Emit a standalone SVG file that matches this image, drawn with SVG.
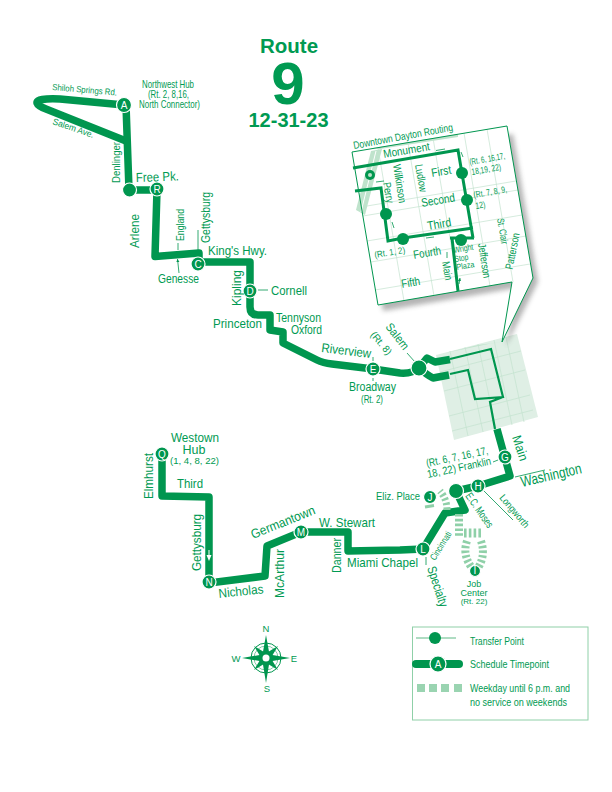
<svg xmlns="http://www.w3.org/2000/svg" width="612" height="792" viewBox="0 0 612 792">
<style>
text{font-family:"Liberation Sans",Arial,sans-serif;fill:#009a52}
.b{font-weight:bold}
.m{text-anchor:middle}
.route{fill:none;stroke:#00964f;stroke-width:7.500;stroke-linejoin:round;stroke-linecap:butt}
.thin{fill:none;stroke:#00964f;stroke-width:3;stroke-linejoin:miter}
.tick{fill:none;stroke:#00964f;stroke-width:.8}
.grid{fill:none;stroke:#c3e3ce;stroke-width:.7}
.dash{fill:none;stroke:#8fd0a8;stroke-dasharray:2.6 2.2}
.stop{fill:#00964f;stroke:#fff;stroke-width:1.2}
.lab{fill:#fff;font-size:10px;text-anchor:middle}
.ar{fill:#00964f}
</style>
<defs>
<filter id="blur" x="-20%" y="-20%" width="140%" height="140%"><feGaussianBlur stdDeviation="2.500"/></filter>
<marker id="ah" markerWidth="5" markerHeight="5" refX="4" refY="2" orient="auto"><path d="M0 0L4 2L0 4z" fill="#00964f"/></marker>
</defs>
<g id="title">
<text class="b m" x="289" y="53" font-size="20.500">Route</text>
<text class="b m" x="288" y="104" font-size="60">9</text>
<text class="b m" x="288.500" y="127" font-size="20">12-31-23</text>
</g>
<g id="downtown-area">
<polygon points="436,355 517,334 538,417 454,440" fill="#dfefe5"/>
<path class="grid" d="M450 351L468 436M465 347L483 432M478 344L496 429M494 340L512 425M506 337L524 422M440 372L521 351M444 391L525 370M449 416L530 395M452 431L533 410"/>
<polygon points="445,353 493,343 502,342 478,345" fill="#bfe3cc"/>
</g>
<g id="inset">
<polygon points="358,160 513,134 538,282 506,346 516,288 383,311" fill="#444" opacity=".4" filter="url(#blur)"/>
<polygon points="352,152 507,126 533,278 502,342 512,282 378,305" fill="#fff"/>
<path class="grid" d="M378 148L404 301M408 143L434 296M433 138L459 291M464 133L490 286M487 129L513 282M361 207L516 181M363 216L518 190M367 241L522 215M371 262L526 236M375 290L530 264"/>
<polygon points="373,148 458,134 458,137 380,149" fill="#bfe3cc"/>
<polygon points="371,151 382,149 365,215 356,210" fill="#bfe3cc"/>
<path d="M376 151L361 212" stroke="#fff" stroke-width="1" fill="none"/>
<polygon points="352,152 507,126 533,278 502,342 512,282 378,305" fill="none" stroke="#00964f" stroke-width="1"/>
<path class="thin" d="M353 168L458 150L473 238M473 228L403 238L388 241L381 188L355 191M450 238L474 238M452 238L458 291"/>
<circle cx="370" cy="175" r="5" fill="#00964f"/><circle cx="370" cy="175" r="2" fill="#bfe3cc"/>
<g id="inset-stops" fill="#00964f"><circle cx="462" cy="173" r="6"/><circle cx="467" cy="200" r="6"/><circle cx="386" cy="214" r="6"/><circle cx="403" cy="239" r="6"/><circle cx="461" cy="240" r="6"/></g>
<path class="tick" marker-end="url(#ah)" d="M445 149L436 150.500M463 157L461 152M376 182L384 181M392 222L394 228M426 238L434 237M447 252L447 258M459 284L460 278"/>
<text font-size="10.500" transform="translate(354 149) rotate(-10.500)" textLength="101" lengthAdjust="spacingAndGlyphs">Downtown Dayton Routing</text>
<text font-size="11.500" transform="translate(384 158) rotate(-9.700)" textLength="47" lengthAdjust="spacingAndGlyphs">Monument</text>
<text font-size="11" transform="translate(393 165) rotate(81)" textLength="39" lengthAdjust="spacingAndGlyphs">Wilkinson</text>
<text font-size="11" transform="translate(415 165) rotate(80)" textLength="28" lengthAdjust="spacingAndGlyphs">Ludlow</text>
<text font-size="11" transform="translate(383 183) rotate(80)" textLength="21" lengthAdjust="spacingAndGlyphs">Perry</text>
<text font-size="12" transform="translate(432 177) rotate(-9.700)" textLength="20" lengthAdjust="spacingAndGlyphs">First</text>
<text font-size="12" transform="translate(422 207) rotate(-9.700)" textLength="34" lengthAdjust="spacingAndGlyphs">Second</text>
<text font-size="12" transform="translate(428 230) rotate(-9.700)" textLength="24" lengthAdjust="spacingAndGlyphs">Third</text>
<text font-size="12" transform="translate(414 259) rotate(-9.700)" textLength="28" lengthAdjust="spacingAndGlyphs">Fourth</text>
<text font-size="12" transform="translate(402 288) rotate(-9.700)" textLength="19" lengthAdjust="spacingAndGlyphs">Fifth</text>
<text font-size="11" transform="translate(442 262) rotate(80)" textLength="19" lengthAdjust="spacingAndGlyphs">Main</text>
<text font-size="8.500" transform="translate(454 253) rotate(-9.700)" textLength="20" lengthAdjust="spacingAndGlyphs">Wright</text>
<text font-size="8.500" transform="translate(455 262) rotate(-9.700)" textLength="14" lengthAdjust="spacingAndGlyphs">Stop</text>
<text font-size="8.500" transform="translate(457 270) rotate(-9.700)" textLength="18" lengthAdjust="spacingAndGlyphs">Plaza</text>
<text font-size="11" transform="translate(478 244) rotate(81)" textLength="35" lengthAdjust="spacingAndGlyphs">Jefferson</text>
<text font-size="10" transform="translate(497 219) rotate(80)" textLength="26" lengthAdjust="spacingAndGlyphs">St. Clair</text>
<text font-size="11" transform="translate(512.500 270) rotate(-79)" textLength="37" lengthAdjust="spacingAndGlyphs">Patterson</text>
<text font-size="9" transform="translate(470 165) rotate(-10)" textLength="36" lengthAdjust="spacingAndGlyphs">(Rt. 6, 16,17,</text>
<text font-size="9" transform="translate(472 175) rotate(-10)" textLength="30" lengthAdjust="spacingAndGlyphs">18,19, 22)</text>
<text font-size="9" transform="translate(474 198) rotate(-10)" textLength="34" lengthAdjust="spacingAndGlyphs">(Rt. 7, 8, 9,</text>
<text font-size="9" transform="translate(476 209) rotate(-10)" textLength="10" lengthAdjust="spacingAndGlyphs">12)</text>
<text font-size="9" transform="translate(375 258) rotate(-9.700)" textLength="31" lengthAdjust="spacingAndGlyphs">(Rt. 1, 2)</text>
</g>
<g id="connectors">
<path class="route" d="M124 105L60 99Q36 98 37 103Q38 106 46 109L126 141"/>
<path class="route" d="M126 105L129 190L157 190L155 256.500L199 253L199 262L250 262L250 307Q250 315 258 315L270 315L270 330L283 332L283 343L317 360Q323 363 332 364L373 369L400 373Q412 374 419 368"/>
<path class="route" d="M419 368L427 358L435 362L450 359.500"/>
<path class="route" d="M419 368Q427 375 433 378L449 375"/>
<path d="M450 359L491 349L503 397L475 399L468 370L450 374M503 397L490 402L495 429" fill="none" stroke="#00964f" stroke-width="2.200"/>
<path class="route" d="M497 429L510 476L478 486L456 491L465 510L445 513L423 549L400 550L348 551L348 532L301 532L267 546L265 576L209 583L209 497L162 496L162 454"/>
<path class="dash" stroke-width="8" d="M459 514L459 536"/>
<path class="dash" stroke-width="9" d="M464 533L483 533"/>
<path class="dash" stroke-width="8" d="M467 541Q462 555 472 568M481 541Q486 555 478 568"/>
<path class="dash" stroke-width="7" d="M447 510Q447 499 440 491"/>
<path fill="none" stroke="#8fd0a8" stroke-width="3" d="M425 507L434 505.500"/>
<path d="M209 550L209 558" stroke="#fff" stroke-width="1"/><path d="M206.500 555L211.500 555L209 561z" fill="#fff"/>
<path class="tick" d="M198 230L198 250M178 243L178 250M258 290L268 290M407 353L415 362M373 357L373 361M373 378L373 381M515 477L545 470M493 462L498 460M483 490L513 520M426 557L426 565"/>
<path class="tick" marker-end="url(#ah)" d="M179 273L177.500 259"/>
</g>
<g id="node-A"><circle class="stop" cx="124" cy="105" r="7.500"/><text class="lab" x="124" y="108.500">A</text></g>
<g id="node-transfer-1"><circle class="stop" cx="129.500" cy="190" r="7"/></g>
<g id="node-R"><circle class="stop" cx="157" cy="189" r="7"/><text class="lab" x="157" y="192.500">R</text></g>
<g id="node-C"><circle class="stop" cx="198" cy="264" r="7"/><text class="lab" x="198" y="267.500">C</text></g>
<g id="node-D"><circle class="stop" cx="250" cy="291" r="7"/><text class="lab" x="250" y="294.500">D</text></g>
<g id="node-E"><circle class="stop" cx="373" cy="369" r="7"/><text class="lab" x="373" y="372.500">E</text></g>
<g id="node-transfer-2"><circle class="stop" cx="419" cy="368" r="8"/></g>
<g id="node-G"><circle class="stop" cx="505" cy="457" r="7"/><text class="lab" x="505" y="460.500">G</text></g>
<g id="node-H"><circle class="stop" cx="478" cy="486" r="7"/><text class="lab" x="478" y="489.500">H</text></g>
<g id="node-transfer-3"><circle class="stop" cx="456" cy="491" r="7.500"/></g>
<g id="node-J"><circle class="stop" cx="430" cy="497" r="6.500" stroke="none"/><text class="lab" x="430" y="500.500">J</text></g>
<g id="node-I"><circle class="stop" cx="475" cy="571" r="5.500" stroke="none"/><text class="lab" x="475" y="574" font-size="8">I</text></g>
<g id="node-L"><circle class="stop" cx="423" cy="549" r="7"/><text class="lab" x="423" y="552.500">L</text></g>
<g id="node-M"><circle class="stop" cx="301" cy="532" r="7"/><text class="lab" x="301" y="535.500">M</text></g>
<g id="node-N"><circle class="stop" cx="209" cy="582" r="7"/><text class="lab" x="209" y="585.500">N</text></g>
<g id="node-Q"><circle class="stop" cx="162" cy="454" r="7"/><text class="lab" x="162" y="457.500">Q</text></g>
<g id="labels">
<text font-size="9" transform="translate(52 90) rotate(5)" textLength="65" lengthAdjust="spacingAndGlyphs">Shiloh Springs Rd.</text>
<text font-size="10.500" x="142" y="88" textLength="52" lengthAdjust="spacingAndGlyphs">Northwest Hub</text>
<text font-size="10" x="148" y="97.500" textLength="41" lengthAdjust="spacingAndGlyphs">(Rt. 2, 8,16,</text>
<text font-size="10" x="139" y="108" textLength="61" lengthAdjust="spacingAndGlyphs">North Connector)</text>
<text font-size="9" transform="translate(52 124) rotate(19)" textLength="43" lengthAdjust="spacingAndGlyphs">Salem Ave.</text>
<text font-size="11" transform="translate(119.500 183) rotate(-90)" textLength="41" lengthAdjust="spacingAndGlyphs">Denlinger</text>
<text font-size="13" x="136" y="182" textLength="43" lengthAdjust="spacingAndGlyphs" transform="rotate(-2 136 182)">Free Pk.</text>
<text font-size="13" transform="translate(139 248) rotate(-90)" textLength="34" lengthAdjust="spacingAndGlyphs">Arlene</text>
<text font-size="11" transform="translate(184 241) rotate(-90)" textLength="32" lengthAdjust="spacingAndGlyphs">England</text>
<text font-size="12" transform="translate(210 243) rotate(-90)" textLength="51" lengthAdjust="spacingAndGlyphs">Gettysburg</text>
<text font-size="13" x="208" y="255" textLength="59" lengthAdjust="spacingAndGlyphs">King's Hwy.</text>
<text font-size="12" x="158" y="283" textLength="41" lengthAdjust="spacingAndGlyphs">Genesse</text>
<text font-size="13" transform="translate(241 306) rotate(-90)" textLength="36" lengthAdjust="spacingAndGlyphs">Kipling</text>
<text font-size="13" x="271" y="295" textLength="36" lengthAdjust="spacingAndGlyphs">Cornell</text>
<text font-size="13" x="213" y="328" textLength="49" lengthAdjust="spacingAndGlyphs">Princeton</text>
<text font-size="12" x="276" y="322" textLength="45" lengthAdjust="spacingAndGlyphs">Tennyson</text>
<text font-size="12" x="291" y="334" textLength="31" lengthAdjust="spacingAndGlyphs">Oxford</text>
<text font-size="13" transform="translate(321 352) rotate(7)" textLength="50" lengthAdjust="spacingAndGlyphs">Riverview</text>
<text font-size="12" transform="translate(385 327) rotate(52)" textLength="30" lengthAdjust="spacingAndGlyphs">Salem</text>
<text font-size="10" transform="translate(370 335) rotate(50)" textLength="27" lengthAdjust="spacingAndGlyphs">(Rt. 8)</text>
<text font-size="12" x="349" y="391" textLength="47" lengthAdjust="spacingAndGlyphs">Broadway</text>
<text font-size="10" x="361" y="403" textLength="22" lengthAdjust="spacingAndGlyphs">(Rt. 2)</text>
<text font-size="13" transform="translate(512 437) rotate(72)" textLength="26" lengthAdjust="spacingAndGlyphs">Main</text>
<text font-size="15" transform="translate(522 487) rotate(-13)" textLength="62" lengthAdjust="spacingAndGlyphs">Washington</text>
<text font-size="11" transform="translate(427 467) rotate(-12)" textLength="63" lengthAdjust="spacingAndGlyphs">(Rt. 6, 7, 16, 17,</text>
<text font-size="11" transform="translate(428 478) rotate(-12)" textLength="65" lengthAdjust="spacingAndGlyphs">18, 22) Franklin</text>
<text font-size="10.500" x="376" y="500" textLength="44" lengthAdjust="spacingAndGlyphs">Eliz. Place</text>
<text font-size="11" transform="translate(465 496) rotate(55)" textLength="40" lengthAdjust="spacingAndGlyphs">E.C. Moses</text>
<text font-size="10" transform="translate(499 498) rotate(50)" textLength="40" lengthAdjust="spacingAndGlyphs">Longworth</text>
<text font-size="9.500" transform="translate(435 561) rotate(-58)" textLength="32" lengthAdjust="spacingAndGlyphs">Cincinnati</text>
<text font-size="13" transform="translate(427 568) rotate(72)" textLength="42" lengthAdjust="spacingAndGlyphs">Specialty</text>
<text class="m" font-size="9" x="474" y="587">Job</text>
<text class="m" font-size="9" x="474" y="595.500">Center</text>
<text class="m" font-size="8" x="474" y="603.500">(Rt. 22)</text>
<text font-size="12.500" x="171" y="442" textLength="48" lengthAdjust="spacingAndGlyphs">Westown</text>
<text class="m" font-size="12.500" x="194" y="454">Hub</text>
<text font-size="9.500" x="170" y="464" textLength="49" lengthAdjust="spacingAndGlyphs">(1, 4, 8, 22)</text>
<text font-size="13" transform="translate(153 499) rotate(-90)" textLength="46" lengthAdjust="spacingAndGlyphs">Elmhurst</text>
<text font-size="13" x="177" y="488" textLength="26" lengthAdjust="spacingAndGlyphs">Third</text>
<text font-size="13" transform="translate(201 571) rotate(-90)" textLength="57" lengthAdjust="spacingAndGlyphs">Gettysburg</text>
<text font-size="13" transform="translate(219 598) rotate(-6)" textLength="45" lengthAdjust="spacingAndGlyphs">Nicholas</text>
<text font-size="13" transform="translate(284 598) rotate(-90)" textLength="49" lengthAdjust="spacingAndGlyphs">McArthur</text>
<text font-size="13" transform="translate(253 539) rotate(-22)" textLength="68" lengthAdjust="spacingAndGlyphs">Germantown</text>
<text font-size="13" x="319" y="527" textLength="56" lengthAdjust="spacingAndGlyphs">W. Stewart</text>
<text font-size="12" transform="translate(341 573) rotate(-90)" textLength="35" lengthAdjust="spacingAndGlyphs">Danner</text>
<text font-size="13" x="347" y="567" textLength="71" lengthAdjust="spacingAndGlyphs">Miami Chapel</text>
</g>
<g id="compass">
<circle cx="266" cy="658" r="15" fill="none" stroke="#00964f" stroke-width="1"/>
<circle cx="266" cy="658" r="12" fill="none" stroke="#00964f" stroke-width=".5"/>
<path class="ar" d="M254 646L269 655L263 661zM278 646L269 661L263 655zM278 670L263 661L269 655zM254 670L263 655L269 661z"/>
<path class="ar" d="M266 635L269.500 654.500L290 658L269.500 661.500L266 683L262.500 661.500L242 658L262.500 654.500z"/>
<circle cx="266" cy="658" r="3.500" fill="#fff"/>
<text class="m" font-size="9.500" x="266" y="632">N</text>
<text class="m" font-size="9.500" x="267" y="692">S</text>
<text class="m" font-size="9.500" x="236" y="662">W</text>
<text class="m" font-size="9.500" x="294" y="662">E</text>
</g>
<g id="legend">
<rect x="412.500" y="627" width="175.500" height="93" fill="#fff" stroke="#8fd0a8" stroke-width="1"/>
<path d="M416 638L456 638" stroke="#5fb985" stroke-width="1" fill="none"/>
<circle cx="435" cy="638" r="6" fill="#00964f"/>
<path d="M416 664L459 664" stroke="#00964f" stroke-width="8" stroke-linecap="round" fill="none"/>
<circle class="stop" cx="438" cy="664" r="8"/><text class="lab" x="438" y="668">A</text>
<g fill="#9ad4b1"><rect x="417" y="684" width="8" height="8"/><rect x="429" y="684" width="8" height="8"/><rect x="441" y="684" width="8" height="8"/><rect x="454" y="684" width="8" height="8"/></g>
<text font-size="11" x="470" y="645" textLength="54" lengthAdjust="spacingAndGlyphs">Transfer Point</text>
<text font-size="11" x="470" y="668" textLength="79" lengthAdjust="spacingAndGlyphs">Schedule Timepoint</text>
<text font-size="11" x="470" y="692" textLength="100" lengthAdjust="spacingAndGlyphs">Weekday until 6 p.m. and</text>
<text font-size="11" x="470" y="706" textLength="97" lengthAdjust="spacingAndGlyphs">no service on weekends</text>
</g>
</svg>
